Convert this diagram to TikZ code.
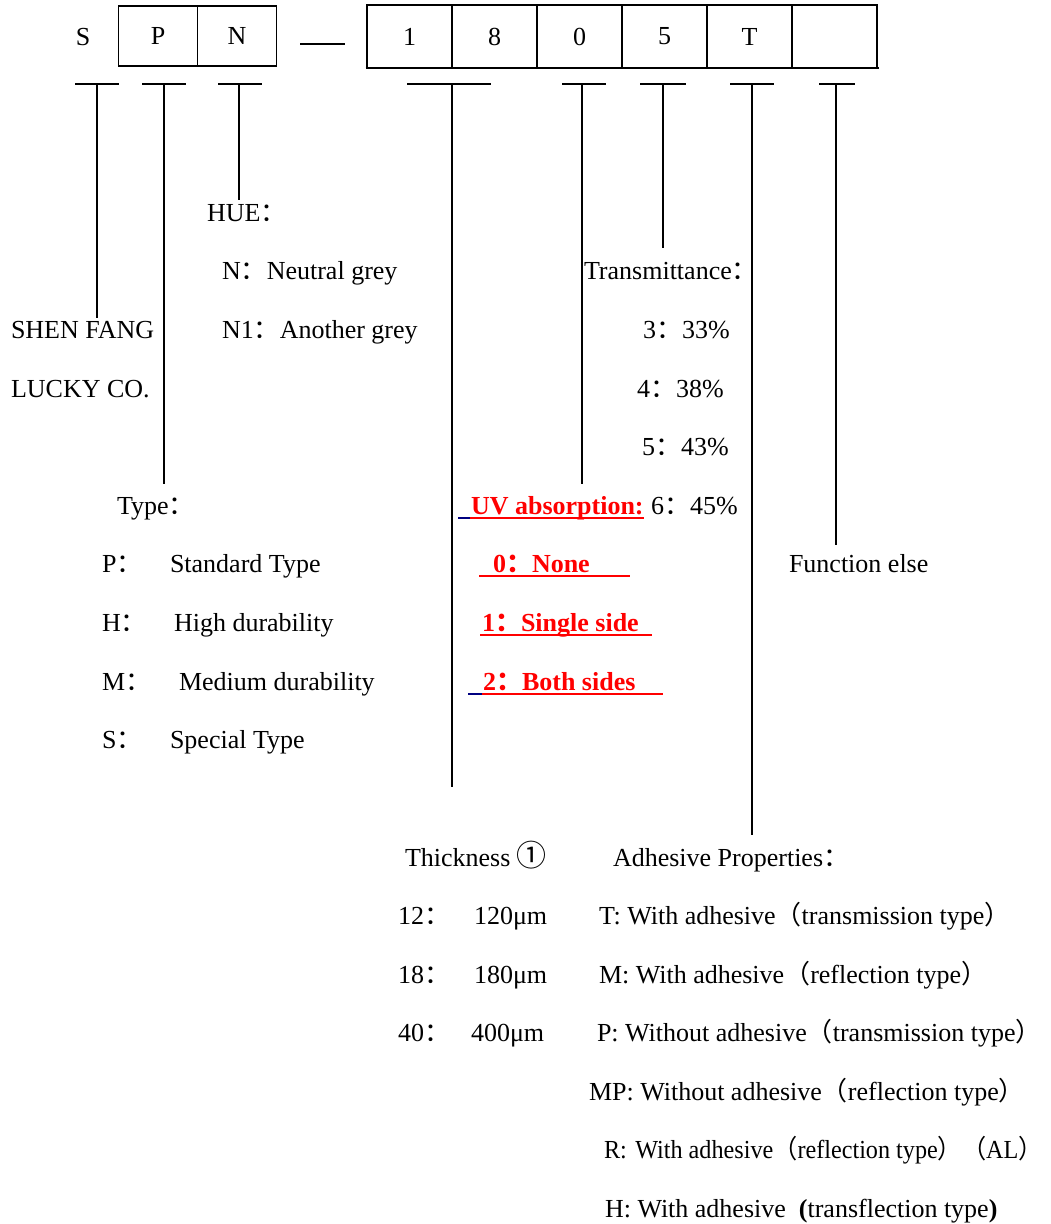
\documentclass[tikz,border=0pt]{standalone}
\usepackage{fontspec}
\usepackage{graphicx}
\setmainfont{Liberation Serif}
\newfontfamily\cjk{Noto Sans CJK SC}
\newcommand{\fc}{{\cjk ：}}
\newcommand{\lp}{{\cjk （}}
\newcommand{\rp}{{\cjk ）}}
\begin{document}
\begin{tikzpicture}[x=1pt,y=-1pt,
  every node/.style={inner sep=0pt,outer sep=0pt,font=\fontsize{26}{30}\selectfont},
  txt/.style={anchor=base west},
  redtxt/.style={anchor=base west,text=red,font=\fontsize{26}{30}\selectfont\bfseries},
  cell/.style={draw,line width=1.6pt,minimum height=60pt,minimum width=79pt},
  rcell/.style={draw,line width=1.6pt,minimum height=63pt,minimum width=85pt},
  bar/.style={line width=1.4pt},
  uline/.style={line width=2.2pt,red},
  bline/.style={line width=2.2pt,blue!50!black}]
\useasboundingbox (0,0) rectangle (1050,1224);
% top row
\node (cS) at (83,37) {S};
\node[cell] (cP) at (158,36) {P};
\node[cell] (cN) at (237,36) {N};
\coordinate (d1) at (300,44);
\coordinate (d2) at (345,44);
\draw[line width=1.5pt] (d1) -- (d2);
\node[rcell] (c1) at (409.5,36.5) {1};
\node[rcell] (c8) at (494.5,36.5) {8};
\node[rcell] (c0) at (579.5,36.5) {0};
\node[rcell] (c5) at (664.5,36.5) {5};
\node[rcell] (cT) at (749.5,36.5) {T};
\node[rcell] (cX) at (834.5,36.5) {};
\draw[line width=2.4pt] (c1.south west) ++(-1.5,0) -- ([xshift=1.5pt]cX.south east);
% T bars
\foreach \n/\x/\a/\b/\e in {S/97/75/119/318, P/164/142/186/484, N/239/218/262/200,
  E/452/407/491/787, Z/582/562/606/484, F/663/640/686/248, A/752/730/774/835, B/836/819/855/545}{
  \coordinate (bl\n) at (\a,84);
  \coordinate (br\n) at (\b,84);
  \coordinate (bt\n) at (\x,84);
  \coordinate (be\n) at (\x,\e);
  \draw[bar] (bl\n) -- (br\n);
  \draw[bar] (bt\n) -- (be\n);
}
% HUE
\node[txt] (hue) at (207,221) {HUE\fc};
\node[txt] (hn) at (222,279) {N\fc Neutral grey};
\node[txt] (hn1) at (222,338) {N1\fc Another grey};
% company
\node[txt] (co1) at (11,338) {SHEN FANG};
\node[txt] (co2) at (11,397) {LUCKY CO.};
% transmittance
\node[txt] (tr) at (584,279) {Transmittance\fc};
\node[txt] (t3) at (643,338) {3\fc 33\%};
\node[txt] (t4) at (637,397) {4\fc 38\%};
\node[txt] (t5) at (642,455) {5\fc 43\%};
\node[txt] (t6) at (651,514) {6\fc 45\%};
% type
\node[txt] (ty) at (117,514) {Type\fc};
\node[txt] (tyP) at (102,572) {P\fc};
\node[txt] (tyPt) at (170,572) {Standard Type};
\node[txt] (tyH) at (102,631) {H\fc};
\node[txt] (tyHt) at (174,631) {High durability};
\node[txt] (tyM) at (102,690) {M\fc};
\node[txt] (tyMt) at (179,690) {Medium durability};
\node[txt] (tyS) at (102,748) {S\fc};
\node[txt] (tySt) at (170,748) {Special Type};
% UV
\node[redtxt] (uv) at (471,514) {UV absorption:};
\node[redtxt] (uv0) at (493,572) {0\fc None};
\node[redtxt] (uv1) at (482,631) {1\fc Single side};
\node[redtxt] (uv2) at (483,690) {2\fc Both sides};
\draw[bline] (458,518) -- (470,518);
\draw[uline] (470,518) -- (644,518);
\draw[uline] (479,576) -- (630,576);
\draw[uline] (480,635) -- (652,635);
\draw[bline] (468,694) -- (482,694);
\draw[uline] (482,694) -- (663,694);
% function
\node[txt] (fe) at (789,572) {Function else};
% thickness
\node[txt] (th) at (405,866) {Thickness {\cjk\fontsize{30}{30}\selectfont ①}};
\node[txt] (th12) at (398,924) {12\fc};
\node[txt] (th12v) at (474,924) {120μm};
\node[txt] (th18) at (398,983) {18\fc};
\node[txt] (th18v) at (474,983) {180μm};
\node[txt] (th40) at (398,1041) {40\fc};
\node[txt] (th40v) at (471,1041) {400μm};
% adhesive
\node[txt] (ad) at (613,866) {Adhesive Properties\fc};
\node[txt] (adT) at (599,924) {T: With adhesive\lp transmission type\rp};
\node[txt] (adM) at (599,983) {M: With adhesive\lp reflection type\rp};
\node[txt] (adP) at (597,1041) {P: Without adhesive\lp transmission type\rp};
\node[txt] (adMP) at (589,1100) {MP: Without adhesive\lp reflection type\rp};
\node[txt] (adR) at (604,1158) {\scalebox{0.93}[1]{R:\hspace{0.35em}With adhesive\lp reflection type\rp\lp AL\rp}};
\node[txt] (adH) at (605,1217) {H: With adhesive\ \ \textbf{(}transflection type\textbf{)}};
\end{tikzpicture}
\end{document}
